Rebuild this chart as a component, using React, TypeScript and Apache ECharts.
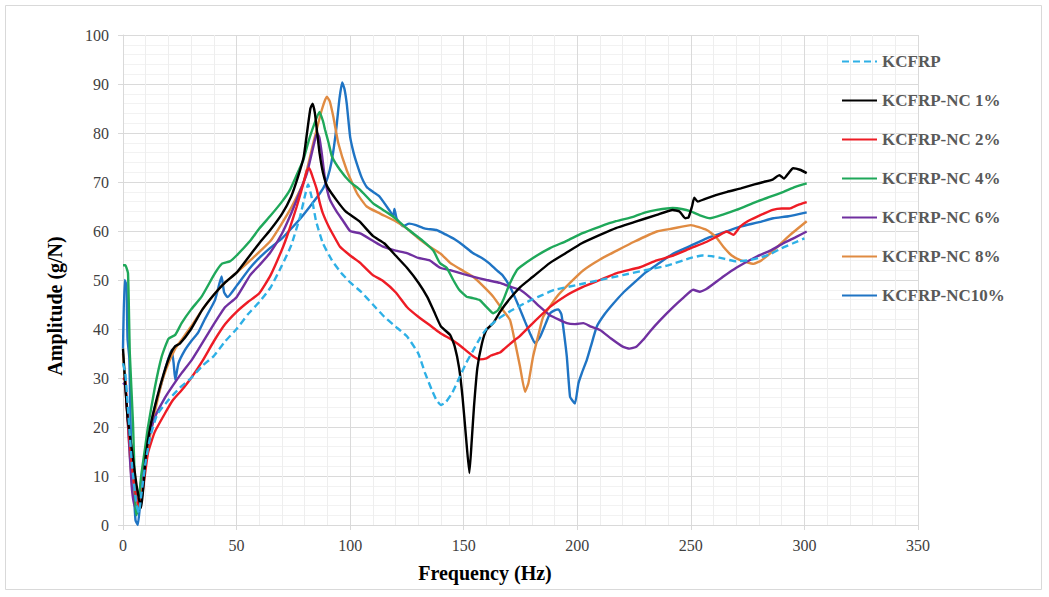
import React, { useEffect, useRef } from "react";
import * as echarts from "echarts";

const seriesNames = [
  "KCFRP",
  "KCFRP-NC 1%",
  "KCFRP-NC 2%",
  "KCFRP-NC 4%",
  "KCFRP-NC 6%",
  "KCFRP-NC 8%",
  "KCFRP-NC10%",
];

const xTicks = [0, 50, 100, 150, 200, 250, 300, 350];
const yTicks = [0, 10, 20, 30, 40, 50, 60, 70, 80, 90, 100];

const kcfrp = [
  [0, 33], [1, 31], [2, 25], [4, 12], [6, 4], [7, 2.5], [8, 6], [10, 13], [12, 18], [15, 22.5], [20, 25.5],
  [25, 28], [30, 30], [35, 32.5], [40, 34.5], [45, 37.5], [50, 40], [55, 43], [60, 45.5], [65, 48.5],
  [70, 53], [74, 57], [78, 63], [80, 67], [81.5, 69.5], [83, 67], [85, 62], [88, 57.5], [92, 54], [96, 51.5],
  [100, 49.5], [105, 47.5], [110, 45], [115, 42.5], [120, 40.5], [125, 38.5], [130, 35], [133, 31],
  [136, 27.5], [138, 25.5], [140, 24.5], [142, 25], [145, 27], [148, 30], [151, 33], [154, 35.5],
  [157, 38], [160, 40], [165, 42], [170, 43.5], [175, 44.8], [180, 46], [185, 47], [190, 48], [200, 49],
  [210, 50], [220, 51], [230, 52], [240, 53], [250, 54.5], [255, 55], [260, 54.8], [265, 54.3],
  [270, 53.8], [275, 54], [280, 54.5], [285, 55.3], [290, 56.5], [295, 57.5], [300, 58.5],
];

const nc1 = [
  [0, 36], [2, 22], [4, 15], [6, 8], [8, 3.5], [9, 8], [10, 14], [12, 20], [15, 26], [18, 31], [21, 35],
  [23, 36.5], [25, 37], [30, 40], [35, 44], [40, 47], [45, 49.5], [50, 51.5], [55, 54.5], [60, 57.5],
  [65, 60.3], [70, 63.5], [74, 67], [77, 71], [79.5, 75], [81, 80], [82.5, 85], [83.5, 86], [84.5, 84],
  [85.5, 80], [86.5, 76], [88, 72], [90, 69], [94, 66.3], [98, 64], [104, 62], [110, 59], [115, 57.5],
  [120, 55], [125, 52.5], [130, 49.5], [134, 46.5], [137, 43.5], [140, 40.5], [144, 38.8], [146, 36.5],
  [148, 32], [149.5, 26], [151, 18], [152.5, 10.6], [153.5, 17], [154.5, 24], [156, 32], [158, 37],
  [160, 39.8], [163, 41.2], [166, 43.5], [170, 46], [175, 48.6], [180, 50.5], [188, 53.5], [195, 55.5],
  [202, 57.5], [210, 59.2], [217, 60.6], [225, 61.8], [235, 63.3], [242, 64.3], [245, 64], [247.5, 62.6],
  [249, 62.8], [250.5, 65], [251.5, 66.8], [253, 66], [256, 66.5], [261, 67.3], [266, 68], [272, 68.7],
  [278, 69.5], [282, 70], [286, 70.5], [289, 71.4], [291, 70.7], [293, 71.8], [295, 72.8], [298, 72.5],
  [301, 71.8],
];

const nc2 = [
  [0, 30], [1, 29.5], [2, 22], [3.5, 14], [5, 8], [6.5, 4.5], [7.5, 3.7], [9, 8], [11, 14.7], [14, 19],
  [18.5, 22.8], [22, 25.5], [25.8, 27.5], [30, 30], [35, 33.5], [40, 37.5], [45, 41], [50, 43.5],
  [55, 45.5], [60, 47.3], [65, 51], [70.5, 56.8], [73, 60], [76.5, 65], [79, 69], [81, 72.4], [82, 72.8],
  [83.5, 71], [85.3, 68.5], [86.5, 66], [88, 63.6], [91, 60.5], [94, 58], [95.5, 56.8], [100, 55],
  [104.4, 53.5], [110, 51], [114.5, 49.8], [120, 47.5], [125, 44.5], [130, 42.5], [135, 40.8],
  [139.6, 39.2], [144, 38], [147, 37.1], [150, 36], [154, 34.5], [157, 33.8], [160, 34], [162, 34.6],
  [164.5, 35], [166, 35.2], [168, 36], [171.8, 37.5], [174.8, 38.6], [180, 41], [188, 44.5], [195, 46.8],
  [202.5, 48.6], [210, 50], [217.4, 51.4], [227.6, 52.6], [235, 54], [242.3, 55], [250, 56.5],
  [257, 57.8], [262, 59], [265.8, 59.9], [268.7, 59.2], [271.7, 60.9], [275, 62], [279, 62.9],
  [286, 64.3], [290, 64.6], [293.4, 64.6], [297, 65.3], [301, 65.9],
];

const nc4 = [
  [0, 53], [1, 53], [2.2, 51.4], [3, 35], [4.4, 20.8], [5.5, 4], [6, 2], [7, 5], [8, 10], [9.5, 15],
  [11, 20], [14, 28], [17, 34.3], [20, 38], [23, 38.8], [25.8, 41.2], [30, 44], [34.6, 46.6],
  [40.5, 51.4], [43.5, 53.3], [47, 53.8], [50, 55], [56, 58], [60, 60.5], [64.7, 63], [70, 66],
  [73.5, 68.4], [77, 72], [79.4, 74.5], [81.5, 78], [83.8, 81.3], [86.5, 84.3], [88, 82.5], [89, 80.6],
  [90.5, 78], [92, 75.2], [95.5, 72.5], [100, 70], [104.4, 68.4], [110, 65.7], [114.5, 64.3], [119, 62.9],
  [125, 60.5], [132, 58], [136.6, 56], [139.6, 53.4], [142.5, 52.5], [145.4, 50], [148, 48],
  [151.3, 46.6], [154, 46.3], [157, 45.9], [160, 44.5], [163, 43.2], [165, 43.8], [167.4, 45.9],
  [170, 49], [173.4, 52], [175, 52.7], [180.5, 54.5], [188, 56.5], [195.4, 58], [202, 59.5], [210, 60.9],
  [217, 62], [224.6, 62.9], [230, 63.8], [235, 64.3], [242, 64.7], [246, 64.5], [250, 64], [254, 63.2],
  [258.5, 62.6], [264.4, 63.4], [270, 64.3], [279, 66], [285, 67], [290.8, 68], [296, 69], [301, 69.7],
];

const nc6 = [
  [0, 29], [1, 28.5], [2, 22], [3, 14], [4, 7], [5.3, 3.7], [6.5, 4], [8, 9], [11, 17.3], [14, 22],
  [18.5, 26], [22, 28.5], [25.8, 31], [30, 33.5], [33, 35.7], [40, 41], [45, 44.5], [50, 46.5], [56, 51],
  [60, 53], [64.7, 55.5], [70, 59.5], [73.5, 63], [77, 67], [81, 71.8], [84.5, 78.6], [85.5, 80],
  [86.5, 79], [87.5, 75.9], [89, 70.4], [91, 66.5], [94, 64], [97, 62], [100, 60], [104.4, 59.5],
  [110, 58], [114.5, 56.8], [120, 56], [125, 55.5], [130, 54.5], [135, 54], [139.6, 52.5], [144, 52],
  [150, 51.2], [154, 50.7], [160, 50], [166, 49.4], [170, 48.7], [174.8, 48], [179, 46.5], [183.6, 44.5],
  [188, 42.8], [195.4, 41.2], [199, 41], [202.7, 41.2], [206, 40.5], [210, 39.8], [215, 38], [220, 36.4],
  [223, 36], [226, 36.4], [229, 37.8], [232, 39.5], [236.5, 41.8], [242.3, 44.5], [247, 46.5], [251, 48],
  [254, 47.6], [257, 48.2], [264.3, 50.7], [270, 52.5], [279, 54.8], [285, 56], [290.8, 57.5], [296, 58.7],
  [301, 59.9],
];

const nc8 = [
  [0, 35], [2, 22], [4, 8], [6, 3], [7.5, 4], [9, 10], [11, 16], [14, 23], [17, 29], [20, 33], [23, 36],
  [25, 37.3], [30, 40.5], [35, 44], [40, 47], [45, 49.5], [50, 51.5], [56, 54], [65, 58], [73.5, 64.3],
  [79.4, 69.8], [83.8, 78], [87.5, 84.7], [89.7, 87.4], [91, 86.5], [92.6, 83.3], [94.8, 77.9],
  [98.5, 72.4], [103, 67.7], [107.3, 65], [113, 63.6], [120, 62], [125, 60.5], [130, 58.5], [135, 56.8],
  [140, 55.3], [144, 53.5], [150, 51.8], [154, 50.7], [158, 49], [163, 46.6], [167, 44], [170.4, 41.8],
  [172.5, 37.5], [174.8, 32.3], [177, 27.2], [178.5, 29], [180.5, 34.3], [183, 39], [185, 42.5],
  [191, 46.6], [197, 49.5], [202.7, 52], [210, 54.2], [217.4, 56], [225, 57.8], [235, 59.9], [242, 60.5],
  [250, 61.2], [257, 60.2], [261, 58.8], [264.3, 56.8], [268, 55], [272, 54], [277.5, 53.3], [281, 54],
  [286.3, 56], [293.7, 59.2], [301, 62],
];

const nc10 = [
  [0, 36], [0.7, 50], [1.5, 49], [2, 38], [2.8, 34], [3.5, 17], [4.5, 9], [5.5, 1], [6.5, 0], [7.5, 4],
  [9, 11], [11, 17.3], [14, 24], [17, 29], [19, 32.5], [21.4, 35.7], [22.3, 33], [23, 29.6], [24.4, 33],
  [27, 35.5], [30, 37.5], [33, 39.2], [36, 42], [40.5, 45.9], [43.4, 50.7], [44.5, 47.5], [46, 46.5],
  [50, 48.8], [56, 52.5], [60, 54.5], [64.7, 56.5], [70, 58.5], [73.5, 60.2], [78, 62.5], [82.3, 65],
  [86.7, 67.7], [89, 69.5], [91, 72.4], [92.5, 76], [94, 81.3], [95.3, 87], [96.5, 90.3], [97.5, 89],
  [98.5, 86], [100, 79.2], [101.5, 76], [102.9, 73.8], [105, 71], [107.3, 69], [110, 68], [113, 67],
  [117.6, 64], [119, 63], [119.5, 64.5], [120.5, 62.5], [123.3, 61], [126, 61.5], [129, 61.2],
  [133, 60.5], [138, 60.2], [142, 59.3], [146, 58.3], [150, 57], [154, 55.5], [158, 54.5], [161, 53.5],
  [164.5, 52], [167, 51], [170.4, 48.6], [172.5, 46.5], [174.8, 44], [177, 41.5], [179.2, 39.1],
  [181.4, 37.1], [183.6, 38.4], [186, 41], [188, 43.2], [190, 43.8], [191.7, 44], [193, 43], [194.2, 39],
  [195.4, 34.3], [196.8, 26.2], [198, 25.3], [199, 24.8], [200.5, 28.9], [202, 31], [204.2, 33.7],
  [206, 36.5], [208.6, 40.5], [212, 43], [215.9, 45.2], [220, 47.3], [224.7, 49.3], [230, 51.5],
  [235, 53.1], [242.3, 55.4], [250, 57], [257, 58.5], [265, 59.8], [271.7, 60.9], [280, 61.8],
  [286.3, 62.6], [293, 63], [301, 63.8],
];

const seriesData = [kcfrp, nc1, nc2, nc4, nc6, nc8, nc10];
const colors = ["#2eb0e6", "#000000", "#ee1c25", "#1fa85a", "#7030a0", "#e08b42", "#1f74c4"];

const FONT = "'Liberation Serif', 'Times New Roman', serif";

export default function App() {
  const ref = useRef<HTMLDivElement>(null);
  useEffect(() => {
    if (!ref.current) return;
    document.body.style.margin = "0";
    const chart = echarts.init(ref.current, null, { renderer: "svg" });
    const series = seriesNames.map((name, i) => ({
      name,
      type: "line",
      data: seriesData[i],
      showSymbol: false,
      symbol: "none",
      smooth: 0.15,
      lineStyle: {
        color: colors[i],
        width: 2.4,
        type: i === 0 ? [7, 4] : "solid",
      },
      itemStyle: { color: colors[i] },
      z: 10 - i,
    }));
    chart.setOption({
      animation: false,
      backgroundColor: "#ffffff",
      textStyle: { fontFamily: FONT },
      grid: { left: 123, top: 35, width: 795, height: 490, containLabel: false },
      xAxis: {
        type: "value",
        min: xTicks[0],
        max: xTicks[xTicks.length - 1],
        interval: 50,
        axisLine: { show: true, lineStyle: { color: "#d9d9d9", width: 1 } },
        axisTick: { show: true, length: 5, lineStyle: { color: "#d9d9d9" } },
        axisLabel: { color: "#404040", fontSize: 16, fontFamily: FONT, margin: 12 },
        splitLine: { show: true, lineStyle: { color: "#dadada", width: 1 } },
        minorTick: { show: false, splitNumber: 5 },
        minorSplitLine: { show: true, lineStyle: { color: "#eeeeee", width: 1 } },
      },
      yAxis: {
        type: "value",
        min: yTicks[0],
        max: yTicks[yTicks.length - 1],
        interval: 10,
        axisLine: { show: true, lineStyle: { color: "#d9d9d9", width: 1 } },
        axisTick: { show: true, length: 5, lineStyle: { color: "#d9d9d9" } },
        axisLabel: { color: "#404040", fontSize: 16, fontFamily: FONT, margin: 14 },
        splitLine: { show: true, lineStyle: { color: "#dadada", width: 1 } },
        minorTick: { show: false, splitNumber: 5 },
        minorSplitLine: { show: true, lineStyle: { color: "#f2f2f2", width: 1 } },
      },
      legend: {
        orient: "vertical",
        left: 836,
        top: 48,
        itemWidth: 35,
        itemHeight: 14,
        itemGap: 22,
        itemStyle: { opacity: 0 },
        textStyle: { color: "#595959", fontSize: 17, fontWeight: "bold", fontFamily: FONT },
        data: seriesNames,
      },
      graphic: [
        {
          type: "rect",
          shape: { x: 5.5, y: 5.5, width: 1036, height: 584 },
          style: { fill: "none", stroke: "#d9d9d9", lineWidth: 1 },
          silent: true,
        },
        {
          type: "text",
          x: 485,
          y: 573,
          style: {
            text: "Frequency (Hz)",
            font: `bold 20px ${FONT}`,
            fill: "#000000",
            align: "center",
            verticalAlign: "middle",
          },
        },
        {
          type: "text",
          x: 55,
          y: 306,
          rotation: Math.PI / 2,
          style: {
            text: "Amplitude (g/N)",
            font: `bold 20px ${FONT}`,
            fill: "#000000",
            align: "center",
            verticalAlign: "middle",
          },
        },
      ],
      series,
    });
    return () => chart.dispose();
  }, []);
  return (
    <div
      ref={ref}
      style={{ position: "absolute", left: 0, top: 0, width: 1049, height: 597 }}
    />
  );
}
